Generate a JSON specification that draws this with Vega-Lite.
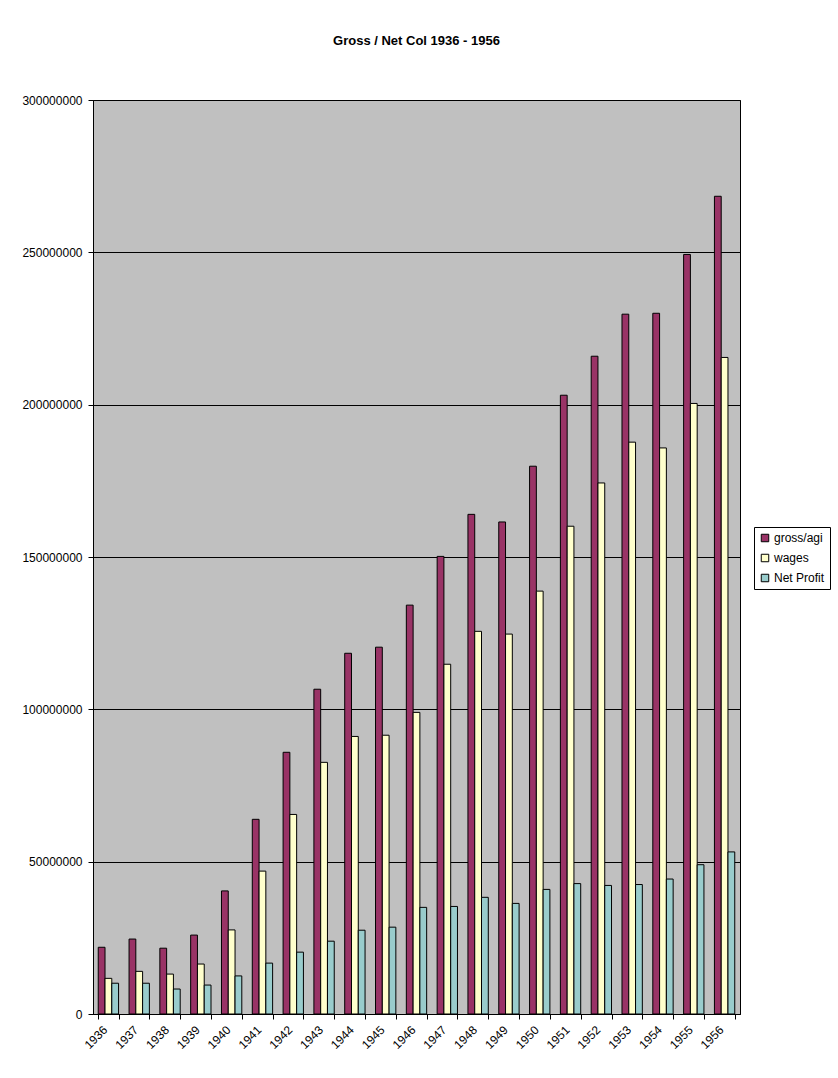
{
  "$schema": "https://vega.github.io/schema/vega-lite/v6.json",
  "autosize": {"type": "none"},
  "padding": {"left": 93, "top": 100, "right": 98, "bottom": 64},
  "width": 647,
  "height": 914,
  "background": "white",
  "title": {
    "text": "Gross / Net Col 1936 - 1956",
    "font": "Liberation Sans",
    "fontSize": 13,
    "fontWeight": "bold",
    "color": "black",
    "anchor": "middle",
    "offset": 46
  },
  "config": {
    "view": {"fill": "#C0C0C0", "stroke": "black", "strokeWidth": 1},
    "font": "Liberation Sans"
  },
  "data": {
    "values": [
      {"year": "1936", "series": "gross/agi", "value": 21900000},
      {"year": "1936", "series": "wages", "value": 11700000},
      {"year": "1936", "series": "Net Profit", "value": 10100000},
      {"year": "1937", "series": "gross/agi", "value": 24600000},
      {"year": "1937", "series": "wages", "value": 14000000},
      {"year": "1937", "series": "Net Profit", "value": 10100000},
      {"year": "1938", "series": "gross/agi", "value": 21600000},
      {"year": "1938", "series": "wages", "value": 13100000},
      {"year": "1938", "series": "Net Profit", "value": 8200000},
      {"year": "1939", "series": "gross/agi", "value": 25900000},
      {"year": "1939", "series": "wages", "value": 16400000},
      {"year": "1939", "series": "Net Profit", "value": 9500000},
      {"year": "1940", "series": "gross/agi", "value": 40400000},
      {"year": "1940", "series": "wages", "value": 27600000},
      {"year": "1940", "series": "Net Profit", "value": 12500000},
      {"year": "1941", "series": "gross/agi", "value": 63900000},
      {"year": "1941", "series": "wages", "value": 46900000},
      {"year": "1941", "series": "Net Profit", "value": 16700000},
      {"year": "1942", "series": "gross/agi", "value": 85900000},
      {"year": "1942", "series": "wages", "value": 65500000},
      {"year": "1942", "series": "Net Profit", "value": 20300000},
      {"year": "1943", "series": "gross/agi", "value": 106600000},
      {"year": "1943", "series": "wages", "value": 82600000},
      {"year": "1943", "series": "Net Profit", "value": 23900000},
      {"year": "1944", "series": "gross/agi", "value": 118400000},
      {"year": "1944", "series": "wages", "value": 91100000},
      {"year": "1944", "series": "Net Profit", "value": 27500000},
      {"year": "1945", "series": "gross/agi", "value": 120400000},
      {"year": "1945", "series": "wages", "value": 91500000},
      {"year": "1945", "series": "Net Profit", "value": 28500000},
      {"year": "1946", "series": "gross/agi", "value": 134200000},
      {"year": "1946", "series": "wages", "value": 99000000},
      {"year": "1946", "series": "Net Profit", "value": 35000000},
      {"year": "1947", "series": "gross/agi", "value": 150200000},
      {"year": "1947", "series": "wages", "value": 114800000},
      {"year": "1947", "series": "Net Profit", "value": 35300000},
      {"year": "1948", "series": "gross/agi", "value": 164000000},
      {"year": "1948", "series": "wages", "value": 125600000},
      {"year": "1948", "series": "Net Profit", "value": 38300000},
      {"year": "1949", "series": "gross/agi", "value": 161500000},
      {"year": "1949", "series": "wages", "value": 124700000},
      {"year": "1949", "series": "Net Profit", "value": 36300000},
      {"year": "1950", "series": "gross/agi", "value": 179800000},
      {"year": "1950", "series": "wages", "value": 138800000},
      {"year": "1950", "series": "Net Profit", "value": 40900000},
      {"year": "1951", "series": "gross/agi", "value": 203100000},
      {"year": "1951", "series": "wages", "value": 160100000},
      {"year": "1951", "series": "Net Profit", "value": 42800000},
      {"year": "1952", "series": "gross/agi", "value": 215900000},
      {"year": "1952", "series": "wages", "value": 174300000},
      {"year": "1952", "series": "Net Profit", "value": 42200000},
      {"year": "1953", "series": "gross/agi", "value": 229700000},
      {"year": "1953", "series": "wages", "value": 187700000},
      {"year": "1953", "series": "Net Profit", "value": 42500000},
      {"year": "1954", "series": "gross/agi", "value": 230000000},
      {"year": "1954", "series": "wages", "value": 185800000},
      {"year": "1954", "series": "Net Profit", "value": 44300000},
      {"year": "1955", "series": "gross/agi", "value": 249300000},
      {"year": "1955", "series": "wages", "value": 200400000},
      {"year": "1955", "series": "Net Profit", "value": 49000000},
      {"year": "1956", "series": "gross/agi", "value": 268400000},
      {"year": "1956", "series": "wages", "value": 215500000},
      {"year": "1956", "series": "Net Profit", "value": 53200000}
    ]
  },
  "mark": {"type": "bar", "stroke": "black", "strokeWidth": 1},
  "encoding": {
    "x": {
      "field": "year",
      "type": "nominal",
      "scale": {"paddingInner": 0.34, "paddingOuter": 0.17},
      "axis": {
        "title": null,
        "labelAngle": -45,
        "labelFontSize": 12,
        "labelColor": "black",
        "labelFont": "Liberation Sans",
        "labelOffset": -7,
        "tickBand": "extent",
        "tickColor": "black",
        "tickSize": 5,
        "domainColor": "black",
        "grid": false,
        "labelPadding": 5
      }
    },
    "xOffset": {
      "field": "series",
      "type": "nominal",
      "sort": ["gross/agi", "wages", "Net Profit"]
    },
    "y": {
      "field": "value",
      "type": "quantitative",
      "scale": {"domain": [0, 300000000], "nice": false},
      "axis": {
        "title": null,
        "values": [0, 50000000, 100000000, 150000000, 200000000, 250000000, 300000000],
        "format": "d",
        "labelFontSize": 12,
        "labelColor": "black",
        "labelFont": "Liberation Sans",
        "tickColor": "black",
        "tickSize": 5,
        "domainColor": "black",
        "gridColor": "black",
        "gridOpacity": 1,
        "gridWidth": 1,
        "labelPadding": 6
      }
    },
    "color": {
      "field": "series",
      "type": "nominal",
      "sort": ["gross/agi", "wages", "Net Profit"],
      "scale": {
        "domain": ["gross/agi", "wages", "Net Profit"],
        "range": ["#993366", "#FFFFCC", "#99CCCC"]
      },
      "legend": {
        "title": null,
        "orient": "none",
        "legendX": 661,
        "legendY": 427,
        "symbolType": "square",
        "symbolSize": 56,
        "symbolStrokeColor": "black",
        "symbolStrokeWidth": 1,
        "labelFontSize": 12,
        "labelFont": "Liberation Sans",
        "labelColor": "black",
        "labelOffset": 3,
        "rowPadding": 8,
        "strokeColor": "black",
        "padding": 5,
        "fillColor": "white"
      }
    }
  }
}
